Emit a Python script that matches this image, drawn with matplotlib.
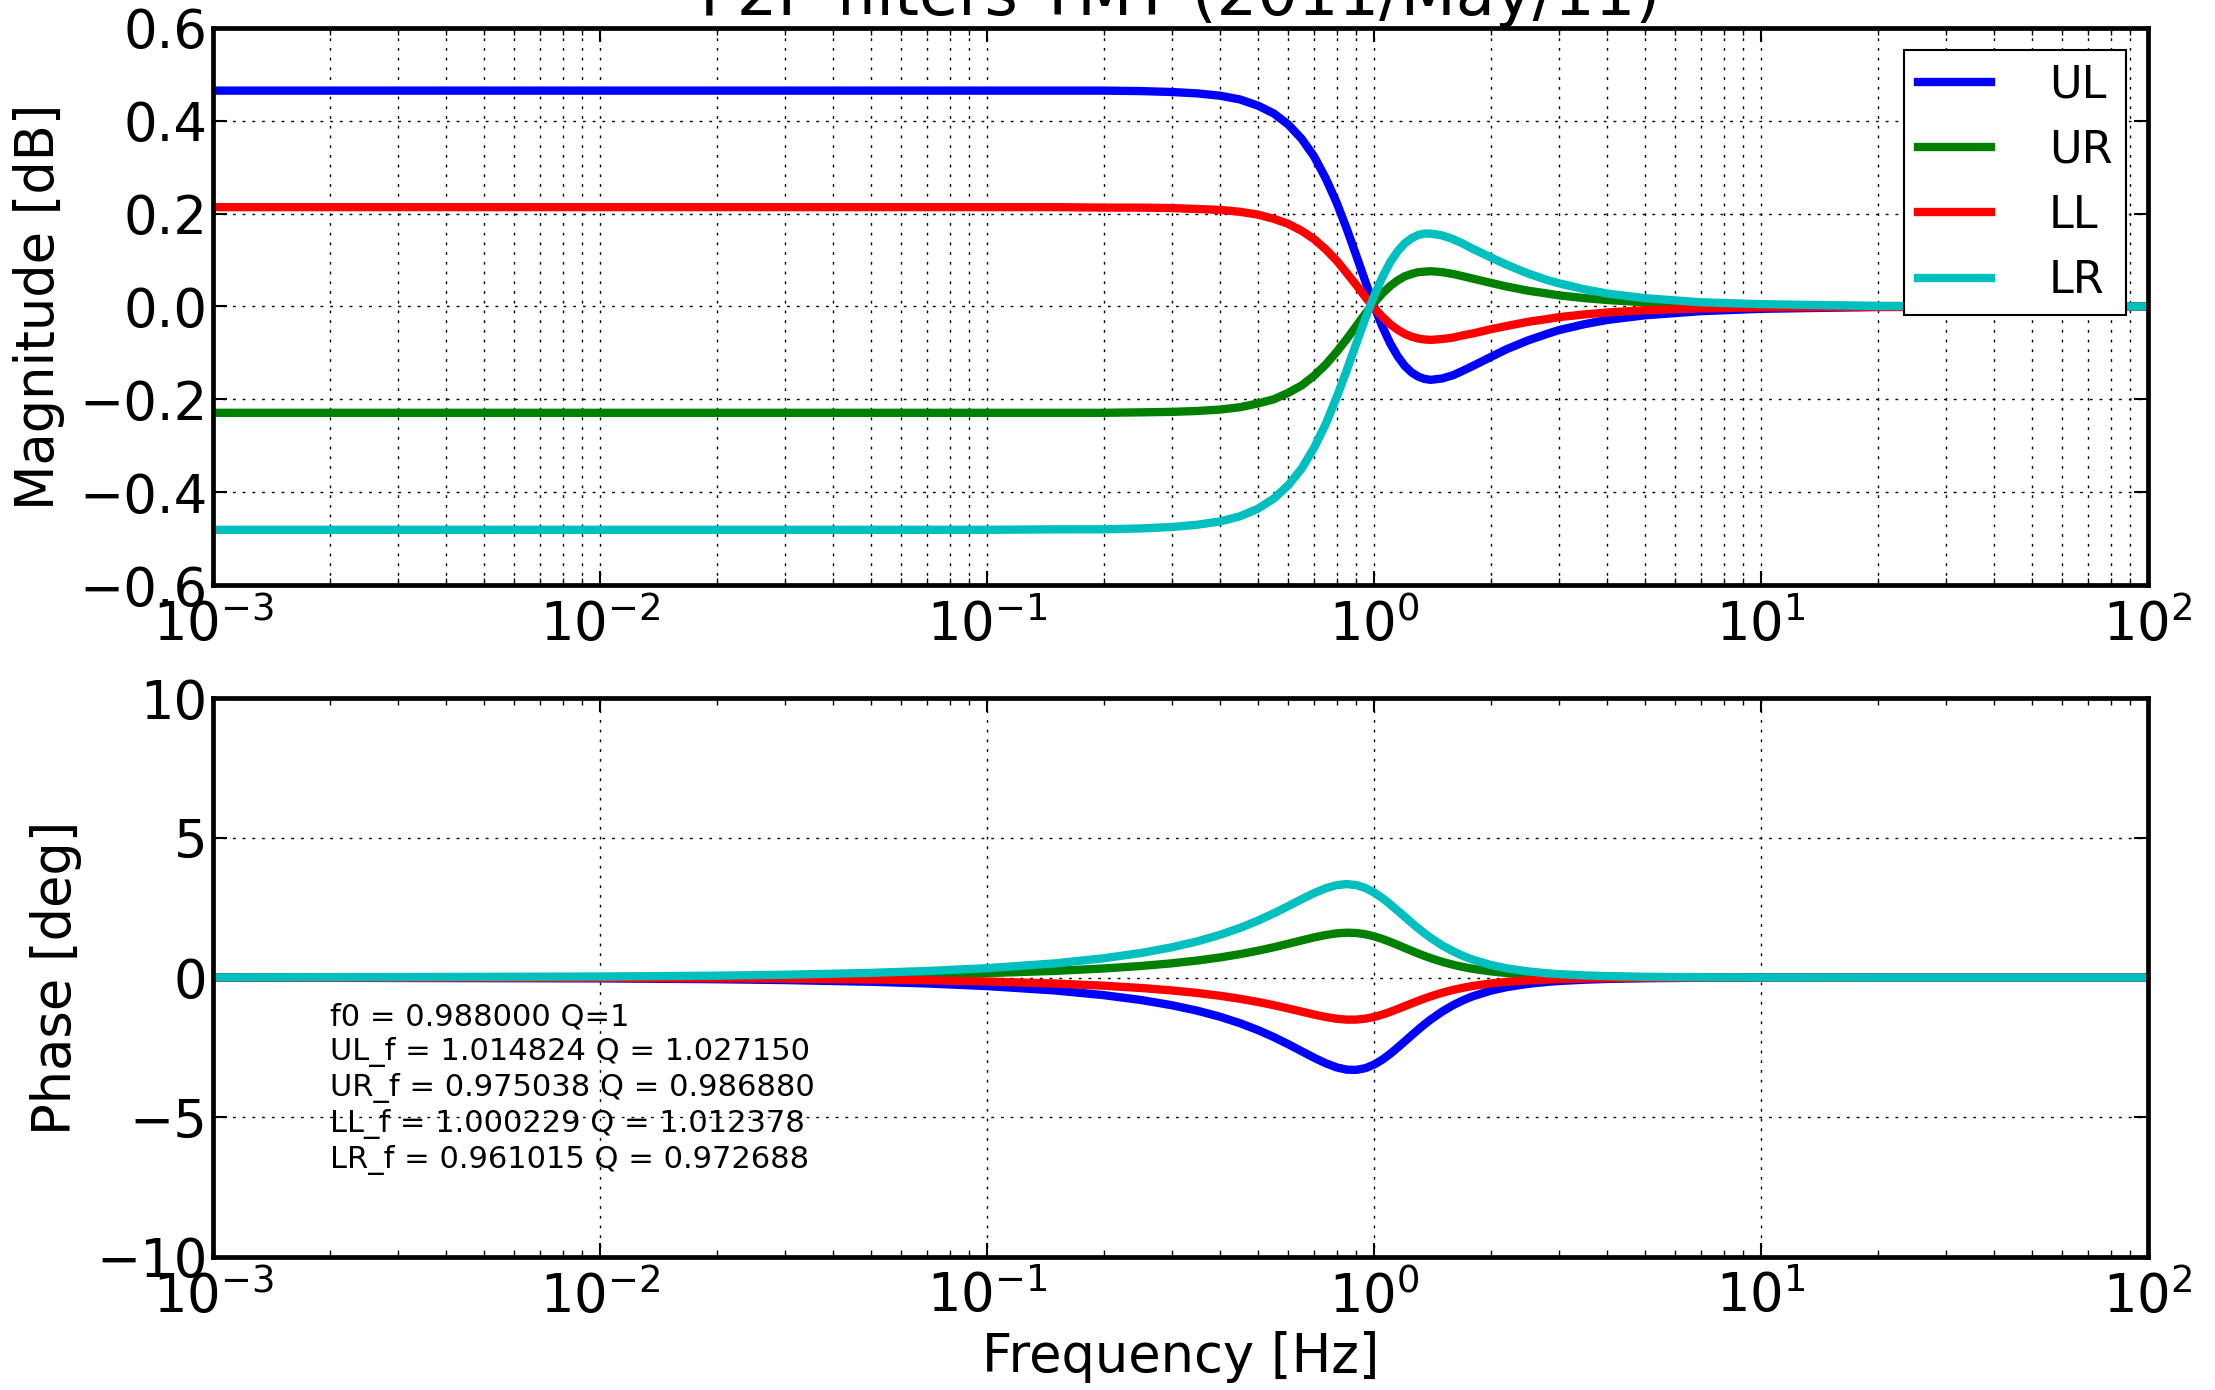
import numpy as np
import matplotlib
matplotlib.use("Agg")
import matplotlib.pyplot as plt

# frequency points [Hz]
freq = [0.001, 0.01, 0.02, 0.03, 0.05, 0.07, 0.1, 0.15, 0.2,
        0.25, 0.3, 0.35, 0.4, 0.45, 0.5, 0.55, 0.6, 0.65, 0.7, 0.75, 0.8, 0.85, 0.9, 0.95, 1.0,
        1.05, 1.1, 1.15, 1.2, 1.25, 1.3, 1.35, 1.4,
        1.5, 1.6, 1.7, 1.8, 2.0, 2.2, 2.5, 2.8, 3.0, 3.5, 4.0, 5.0, 7.0, 10.0, 20.0, 100.0]

# magnitude [dB]
mag_ul = [0.465, 0.465, 0.465, 0.465, 0.465, 0.465, 0.465, 0.465, 0.465,
          0.464, 0.462, 0.459, 0.454, 0.446, 0.433, 0.416, 0.392, 0.361, 0.323, 0.276, 0.224,
          0.167, 0.109, 0.053, 0.001,
          -0.043, -0.079, -0.107, -0.128, -0.142, -0.151, -0.156, -0.158,
          -0.155, -0.148, -0.138, -0.128, -0.109, -0.092, -0.073, -0.059, -0.051, -0.038,
          -0.029, -0.019, -0.010, -0.005, -0.001, 0.0]
mag_ur = [-0.229, -0.229, -0.229, -0.229, -0.229, -0.229, -0.229, -0.229, -0.229,
          -0.228, -0.227, -0.225, -0.222, -0.217, -0.209, -0.200, -0.186, -0.170, -0.149, -0.125,
          -0.098, -0.070, -0.042, -0.015, 0.008,
          0.028, 0.044, 0.056, 0.065, 0.070, 0.074, 0.075, 0.076,
          0.074, 0.070, 0.065, 0.060, 0.051, 0.043, 0.034, 0.028, 0.024, 0.018,
          0.014, 0.009, 0.005, 0.002, 0.001, 0.0]
mag_ll = [0.214, 0.214, 0.214, 0.214, 0.214, 0.214, 0.214, 0.214, 0.213,
          0.213, 0.212, 0.210, 0.208, 0.204, 0.198, 0.189, 0.178, 0.163, 0.145, 0.123, 0.099,
          0.072, 0.046, 0.020, -0.003,
          -0.022, -0.038, -0.050, -0.059, -0.065, -0.069, -0.071, -0.072,
          -0.070, -0.067, -0.062, -0.058, -0.049, -0.042, -0.033, -0.027, -0.023, -0.017,
          -0.013, -0.008, -0.004, -0.002, -0.001, 0.0]
mag_lr = [-0.481, -0.481, -0.481, -0.481, -0.481, -0.481, -0.481, -0.480, -0.480,
          -0.478, -0.475, -0.470, -0.463, -0.452, -0.436, -0.414, -0.385, -0.349, -0.304, -0.253,
          -0.196, -0.137, -0.079, -0.025, 0.023,
          0.063, 0.095, 0.119, 0.136, 0.147, 0.154, 0.157, 0.157,
          0.153, 0.145, 0.135, 0.124, 0.106, 0.090, 0.071, 0.057, 0.050, 0.037,
          0.028, 0.018, 0.009, 0.005, 0.001, 0.0]

# phase [deg]
ph_ul = [-0.003, -0.030, -0.061, -0.091, -0.152, -0.213, -0.306, -0.464, -0.630,
         -0.805, -0.991, -1.190, -1.404, -1.633, -1.876, -2.129, -2.387, -2.639, -2.872, -3.069,
         -3.216, -3.297, -3.305, -3.242, -3.115,
         -2.940, -2.733, -2.510, -2.286, -2.068, -1.864, -1.675, -1.505,
         -1.216, -0.989, -0.810, -0.670, -0.472, -0.344, -0.226, -0.157, -0.125, -0.077,
         -0.051, -0.025, -0.009, -0.003, 0.0, 0.0]
ph_ur = [0.002, 0.016, 0.031, 0.047, 0.078, 0.109, 0.157, 0.238, 0.323,
         0.413, 0.508, 0.610, 0.719, 0.835, 0.957, 1.082, 1.208, 1.328, 1.435, 1.522,
         1.580, 1.604, 1.592, 1.547, 1.473,
         1.380, 1.276, 1.167, 1.059, 0.956, 0.860, 0.773, 0.694,
         0.561, 0.457, 0.375, 0.311, 0.220, 0.160, 0.106, 0.073, 0.059, 0.036,
         0.024, 0.012, 0.004, 0.001, 0.0, 0.0]
ph_ll = [-0.001, -0.014, -0.028, -0.042, -0.071, -0.099, -0.142, -0.216, -0.293,
         -0.375, -0.462, -0.554, -0.654, -0.760, -0.872, -0.989, -1.107, -1.221, -1.326, -1.413,
         -1.476, -1.508, -1.506, -1.472, -1.410,
         -1.327, -1.231, -1.128, -1.026, -0.928, -0.835, -0.751, -0.674,
         -0.545, -0.443, -0.364, -0.301, -0.212, -0.155, -0.102, -0.071, -0.057, -0.035,
         -0.023, -0.012, -0.004, -0.001, 0.0, 0.0]
ph_lr = [0.003, 0.033, 0.066, 0.099, 0.166, 0.233, 0.334, 0.507, 0.688,
         0.878, 1.081, 1.297, 1.528, 1.773, 2.030, 2.293, 2.555, 2.803, 3.022, 3.194,
         3.304, 3.343, 3.306, 3.202, 3.042,
         2.843, 2.622, 2.394, 2.171, 1.958, 1.761, 1.582, 1.421,
         1.149, 0.936, 0.769, 0.637, 0.451, 0.330, 0.218, 0.151, 0.121, 0.075,
         0.049, 0.025, 0.009, 0.003, 0.0, 0.0]

labels = ["UL", "UR", "LL", "LR"]
colors = ["b", "g", "r", "c"]
mags = [mag_ul, mag_ur, mag_ll, mag_lr]
phases = [ph_ul, ph_ur, ph_ll, ph_lr]

param_text = ("f0 = 0.988000 Q=1\n"
              "UL_f = 1.014824 Q = 1.027150\n"
              "UR_f = 0.975038 Q = 0.986880\n"
              "LL_f = 1.000229 Q = 1.012378\n"
              "LR_f = 0.961015 Q = 0.972688")

plt.rcParams['font.family'] = ['DejaVu Sans']
plt.rcParams['axes.linewidth'] = 3.4

fig = plt.figure(figsize=(22.15, 13.9), dpi=100)
ax1 = fig.add_axes([0.0962, 0.5791, 0.8736, 0.4008])
ax2 = fig.add_axes([0.0962, 0.0957, 0.8736, 0.4021])

dots = (0, (2, 5))

for i in range(4):
    ax1.semilogx(freq, mags[i], color=colors[i], lw=6, label=labels[i])
    ax2.semilogx(freq, phases[i], color=colors[i], lw=6)

for ax in [ax1, ax2]:
    ax.set_xlim(1e-3, 1e2)
    ax.tick_params(which='both', direction='in', top=True, right=True)
    ax.tick_params(which='major', length=10, width=1.5, labelsize=38)
    ax.tick_params(which='minor', length=5, width=1)
    ax.tick_params(axis='x', which='major', pad=10)
    ax.tick_params(axis='y', which='major', pad=4)

ax1.set_ylim(-0.6, 0.6)
ax1.set_yticks([-0.6, -0.4, -0.2, 0.0, 0.2, 0.4, 0.6])
ax1.set_yticklabels(["\u22120.6", "\u22120.4", "\u22120.2", "0.0", "0.2", "0.4", "0.6"])
ax1.grid(True, which='major', color='k', ls=dots, lw=1)
ax1.xaxis.grid(True, which='minor', color='k', ls=dots, lw=1)
ax1.set_ylabel("Magnitude [dB]", fontsize=38, labelpad=10)
ax1.set_title("F2P filters TMT (2011/May/11)", fontsize=46, y=1.0, pad=9)

leg = ax1.legend(loc='upper right', fontsize=32, handlelength=1.65, handletextpad=1.3,
                 labelspacing=0.5, borderpad=0.3, fancybox=False, framealpha=1,
                 edgecolor='k')
leg.get_frame().set_linewidth(1.5)

ax2.set_ylim(-10, 10)
ax2.set_yticks([-10, -5, 0, 5, 10])
ax2.grid(True, which='major', color='k', ls=dots, lw=1)
ax2.set_ylabel("Phase [deg]", fontsize=38, labelpad=10)
ax2.set_xlabel("Frequency [Hz]", fontsize=38, labelpad=5)
ax2.text(2e-3, -0.9, param_text, fontsize=22, va='top', ha='left', linespacing=1.25)

plt.savefig("out.png", dpi=100)
